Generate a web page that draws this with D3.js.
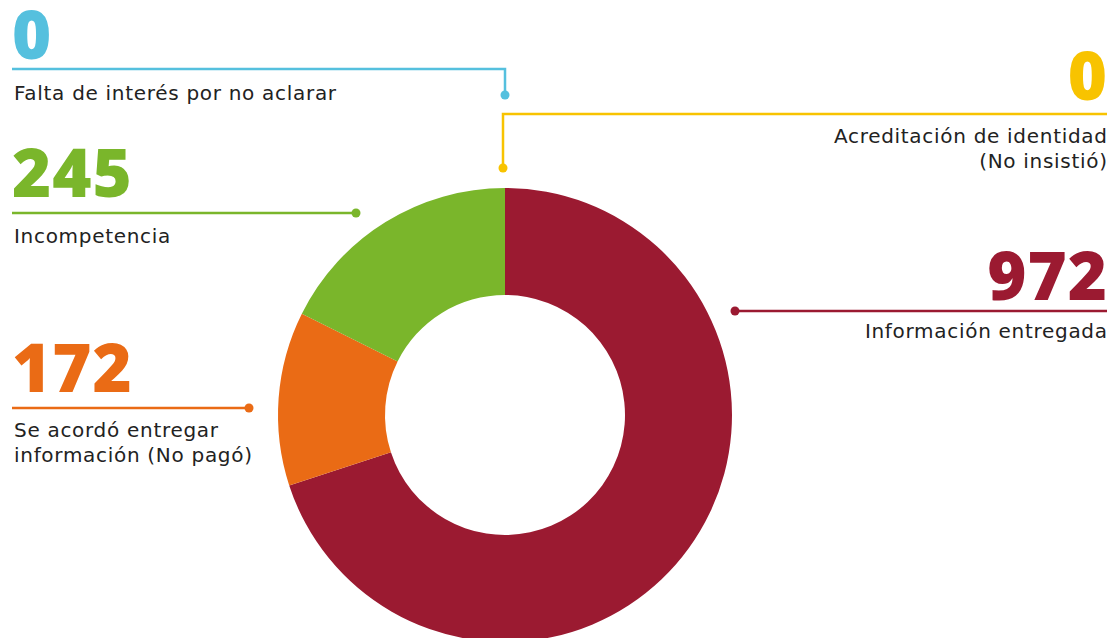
<!DOCTYPE html>
<html><head><meta charset="utf-8">
<script src="https://cdn.jsdelivr.net/npm/d3@7"></script>
<style>body{margin:0;background:#fff}svg{display:block}</style>
</head><body><svg id="c" width="1109" height="638"></svg>
<script>
const categories = ["Información entregada","Se acordó entregar información (No pagó)","Incompetencia","Falta de interés por no aclarar","Acreditación de identidad (No insistió)"];
const values = [972,172,245,0,0];
const colors = ["#9B1A31","#EA6B15","#7AB62B","#55C0DE","#F8C300"];
const labelLines = [["Información entregada"],["Se acordó entregar","información (No pagó)"],["Incompetencia"],["Falta de interés por no aclarar"],["Acreditación de identidad","(No insistió)"]];

// annotation layout: side, number baseline, line y, dot position, elbow
const layout = [
  {align:"end", x:1107, numY:300, lineY:311, lineX0:1107, dot:[735,311], labY:338},
  {align:"start", x:12, numY:392, lineY:408, lineX0:12, dot:[249,408], labY:437},
  {align:"start", x:12, numY:197, lineY:213, lineX0:12, dot:[356,213], labY:243},
  {align:"start", x:12, numY:59, lineY:69, lineX0:12, dot:[505,95], elbow:true, labY:100},
  {align:"end", x:1107, numY:100, lineY:114, lineX0:1107, dot:[503,168], elbow:true, labY:143}
];

const svg = d3.select("#c");
const cx = 505, cy = 415, rOut = 227, rIn = 120;
const pie = d3.pie().sort(null).value(d=>d)(values);
const arc = d3.arc().innerRadius(rIn).outerRadius(rOut);
const g = svg.append("g").attr("transform",`translate(${cx},${cy})`);
g.selectAll("path").data(pie).join("path").attr("d",arc).attr("fill",(d,i)=>colors[i]);

const numFont = "'Open Sans', sans-serif";
const labFont = "'DejaVu Sans', sans-serif";
layout.forEach((L,i)=>{
  const c = colors[i];
  const pts = L.elbow ? [[L.lineX0,L.lineY],[L.dot[0],L.lineY],[L.dot[0],L.dot[1]]] : [[L.lineX0,L.lineY],[L.dot[0],L.dot[1]]];
  svg.append("path").attr("d",d3.line()(pts)).attr("fill","none").attr("stroke",c).attr("stroke-width",2.5);
  svg.append("circle").attr("cx",L.dot[0]).attr("cy",L.dot[1]).attr("r",4.5).attr("fill",c);
  svg.append("text").attr("x",L.align==="start"?L.x:L.x+1).attr("y",L.numY)
    .attr("text-anchor",L.align).attr("fill",c)
    .style("font-family",numFont).style("font-weight",800).style("font-size","67px")
    .style("letter-spacing","1px")
    .text(d3.format("d")(values[i]));
  labelLines[i].forEach((t,k)=>{
    svg.append("text").attr("x",L.align==="start"?L.x+2:L.x+0.7).attr("y",L.labY+k*25)
      .attr("text-anchor",L.align).attr("fill","#222")
      .style("font-family",labFont).style("font-size","20px").style("letter-spacing","0.7px")
      .text(t);
  });
});
</script></body></html>
